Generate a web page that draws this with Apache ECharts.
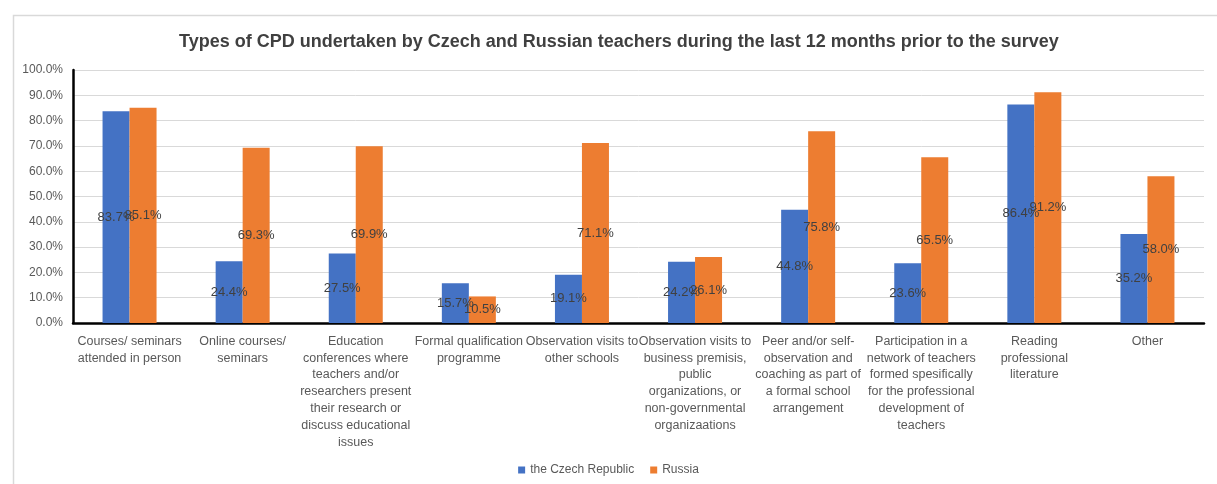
<!DOCTYPE html>
<html>
<head>
<meta charset="utf-8">
<script src="https://cdn.jsdelivr.net/npm/echarts@6/dist/echarts.min.js"></script>
<style>
  html, body { margin: 0; padding: 0; background: #ffffff; }
  #chart { width: 1217px; height: 484px; }
</style>
</head>
<body>
<div id="chart"></div>
<script>
// CPD activity types (label lines broken as they wrap under each group)
const categories = [
  'Courses/ seminars\nattended in person',
  'Online courses/\nseminars',
  'Education\nconferences where\nteachers and/or\nresearchers present\ntheir research or\ndiscuss educational\nissues',
  'Formal qualification\nprogramme',
  'Observation visits to\nother schools',
  'Observation visits to\nbusiness premisis,\npublic\norganizations, or\nnon-governmental\norganizaations',
  'Peer and/or self-\nobservation and\ncoaching as part of\na formal school\narrangement',
  'Participation in a\nnetwork of teachers\nformed spesifically\nfor the professional\ndevelopment of\nteachers',
  'Reading\nprofessional\nliterature',
  'Other'
];

// Share of teachers (%) per activity
const czechValues  = [83.7, 24.4, 27.5, 15.7, 19.1, 24.2, 44.8, 23.6, 86.4, 35.2];
const russiaValues = [85.1, 69.3, 69.9, 10.5, 71.1, 26.1, 75.8, 65.5, 91.2, 58.0];

const seriesNames = ['the Czech Republic', 'Russia'];
const yTicks = { min: 0, max: 100, interval: 10 };

const FONT = '"Liberation Sans", Arial, sans-serif';
const chart = echarts.init(document.getElementById('chart'), null, { renderer: 'canvas' });

const valueLabel = {
  show: true,
  position: 'inside',
  color: '#404040',
  fontFamily: FONT,
  fontSize: 13,
  formatter: p => p.value.toFixed(1) + '%'
};

chart.setOption({
  animation: false,
  backgroundColor: '#ffffff',
  graphic: [{
    type: 'rect',
    left: 11, top: 13,
    shape: { width: 1220, height: 480 },
    style: { fill: 'none', stroke: '#d9d9d9', lineWidth: 1.5 },
    silent: true
  }],
  title: {
    text: 'Types of CPD undertaken by Czech and Russian teachers during the last 12 months prior to the survey',
    left: 174,
    top: 28,
    textStyle: { fontFamily: FONT, fontSize: 18, fontWeight: 'bold', color: '#404040' }
  },
  legend: {
    data: seriesNames,
    bottom: 3,
    left: 'center',
    icon: 'rect',
    itemWidth: 7,
    itemHeight: 7,
    itemGap: 16,
    textStyle: { fontFamily: FONT, fontSize: 12, color: '#595959' }
  },
  grid: { left: 73, right: 13, top: 70, bottom: 161 },
  xAxis: {
    type: 'category',
    data: categories,
    axisLine: { lineStyle: { color: '#000000', width: 2.5 } },
    axisTick: { show: false },
    axisLabel: {
      interval: 0,
      margin: 10,
      color: '#595959',
      fontFamily: FONT,
      fontSize: 12.5,
      lineHeight: 16.8,
      align: 'center'
    }
  },
  yAxis: {
    type: 'value',
    min: yTicks.min,
    max: yTicks.max,
    interval: yTicks.interval,
    axisLine: { show: true, lineStyle: { color: '#000000', width: 2.5 } },
    axisTick: { show: false },
    splitLine: { lineStyle: { color: '#d9d9d9', width: 1 } },
    axisLabel: {
      margin: 10,
      color: '#595959',
      fontFamily: FONT,
      fontSize: 12,
      formatter: v => v.toFixed(1) + '%'
    }
  },
  series: [
    {
      name: seriesNames[0],
      type: 'bar',
      data: czechValues,
      barWidth: 27,
      barGap: '0%',
      itemStyle: { color: '#4472C4' },
      label: valueLabel
    },
    {
      name: seriesNames[1],
      type: 'bar',
      data: russiaValues,
      barWidth: 27,
      barGap: '0%',
      itemStyle: { color: '#ED7D31' },
      label: valueLabel
    }
  ]
});
</script>
</body>
</html>
